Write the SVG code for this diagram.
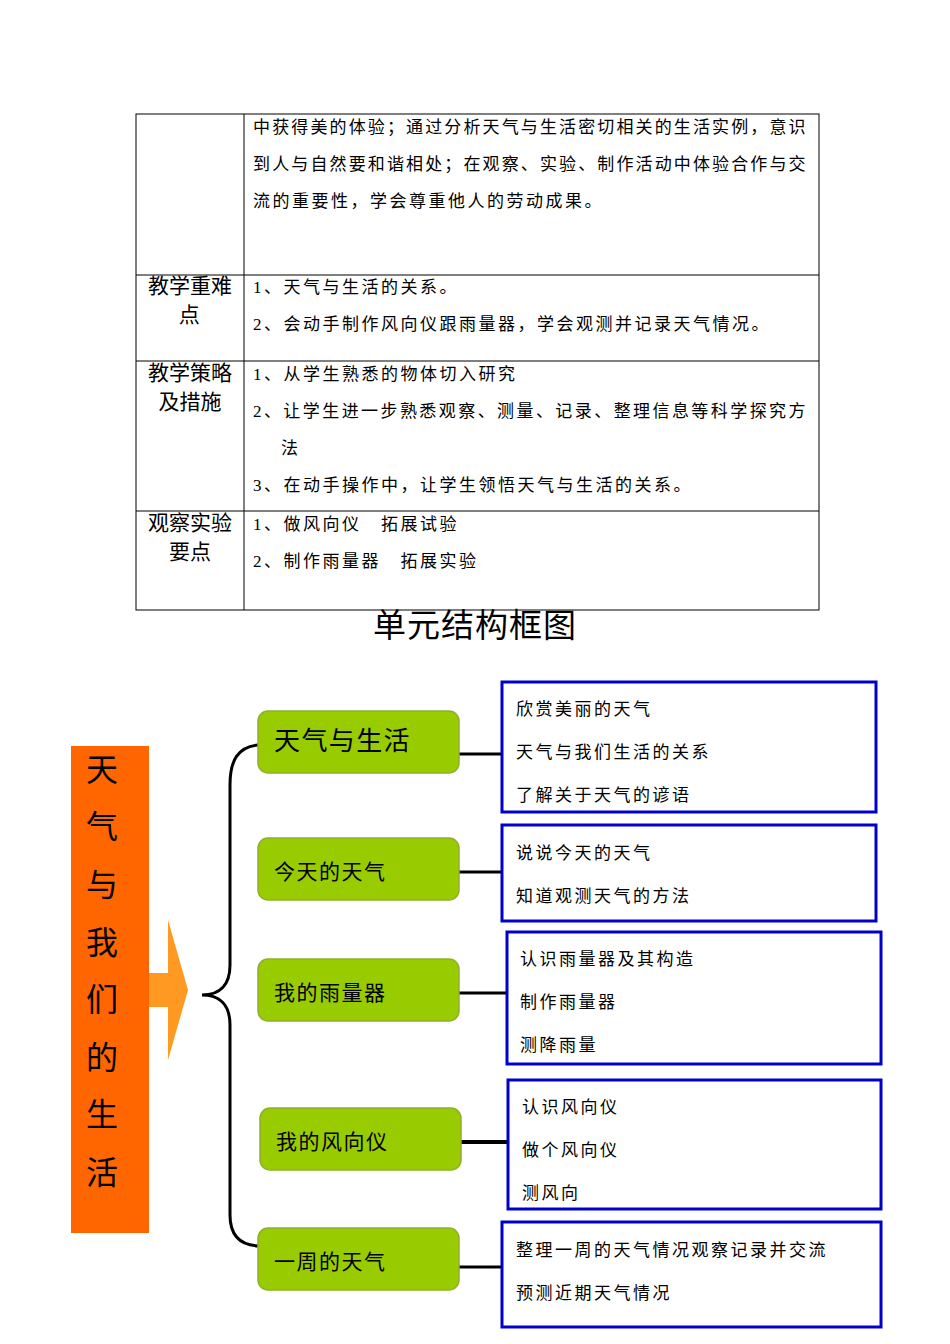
<svg xmlns="http://www.w3.org/2000/svg" width="950" height="1344" viewBox="0 0 950 1344">
<style>
text{font-family:"Liberation Serif","Noto Sans CJK SC",serif;fill:#000}
.t{font-size:17px;letter-spacing:2.5px}
.h{font-size:21px;letter-spacing:1.5px}
.g{fill:#99cc00;stroke:#8db02a;stroke-width:1.5}
.b{fill:#fff;stroke:#0000cc;stroke-width:3}
.c{stroke:#000;stroke-width:3;fill:none}
.grid{stroke:#000;stroke-width:1;fill:none}
</style>
<rect width="950" height="1344" fill="#fff"/>
<g id="table">
<rect class="grid" x="136" y="114" width="683" height="496"/>
<line class="grid" x1="244" y1="114" x2="244" y2="610"/>
<line class="grid" x1="136" y1="275" x2="819" y2="275"/>
<line class="grid" x1="136" y1="361" x2="819" y2="361"/>
<line class="grid" x1="136" y1="511" x2="819" y2="511"/>
<text class="t" x="253" y="133" textLength="555">中获得美的体验；通过分析天气与生活密切相关的生活实例，意识</text>
<text class="t" x="253" y="170" textLength="555">到人与自然要和谐相处；在观察、实验、制作活动中体验合作与交</text>
<text class="t" x="253" y="207">流的重要性，学会尊重他人的劳动成果。</text>
<text class="h" x="190" y="293" text-anchor="middle" style="letter-spacing:0">教学重难</text>
<text class="h" x="190" y="322" text-anchor="middle">点</text>
<text class="t" x="253" y="293">1、天气与生活的关系。</text>
<text class="t" x="253" y="330">2、会动手制作风向仪跟雨量器，学会观测并记录天气情况。</text>
<text class="h" x="190" y="380" text-anchor="middle" style="letter-spacing:0">教学策略</text>
<text class="h" x="190" y="409" text-anchor="middle" style="letter-spacing:0">及措施</text>
<text class="t" x="253" y="380">1、从学生熟悉的物体切入研究</text>
<text class="t" x="253" y="417" textLength="555">2、让学生进一步熟悉观察、测量、记录、整理信息等科学探究方</text>
<text class="t" x="281" y="454">法</text>
<text class="t" x="253" y="491">3、在动手操作中，让学生领悟天气与生活的关系。</text>
<text class="h" x="190" y="530" text-anchor="middle" style="letter-spacing:0">观察实验</text>
<text class="h" x="190" y="559" text-anchor="middle" style="letter-spacing:0">要点</text>
<text class="t" x="253" y="530">1、做风向仪　拓展试验</text>
<text class="t" x="253" y="567">2、制作雨量器　拓展实验</text>
</g>
<text x="475" y="637" text-anchor="middle" style="font-size:33px;letter-spacing:1px">单元结构框图</text>
<g id="main">
<rect x="71" y="746" width="78" height="487" fill="#ff6600"/>
<polygon points="149,973 168,973 168,920 188,990 168,1060 168,1007 149,1007" fill="#ff9922"/>
<g style="font-size:32px" text-anchor="middle">
<text x="102" y="781">天</text><text x="102" y="838">气</text><text x="102" y="896">与</text><text x="102" y="954">我</text>
<text x="102" y="1011">们</text><text x="102" y="1069">的</text><text x="102" y="1126">生</text><text x="102" y="1184">活</text>
</g>
</g>
<g id="connectors">
<path class="c" d="M258,745 C238,747 230,760 230,785 L230,965 C230,985 220,995 202,995 C220,995 230,1005 230,1025 L230,1215 C230,1235 240,1245 258,1246"/>
<line class="c" x1="459" y1="754" x2="502" y2="754"/>
<line class="c" x1="459" y1="872" x2="502" y2="872"/>
<line class="c" x1="459" y1="993" x2="507" y2="993"/>
<line class="c" x1="461" y1="1142" x2="508" y2="1142" style="stroke-width:4"/>
<line class="c" x1="459" y1="1267" x2="502" y2="1267"/>
</g>
<g id="n1"><rect class="g" x="258" y="711" width="201" height="62" rx="10"/><text x="274" y="750" style="font-size:26px;letter-spacing:1.4px">天气与生活</text></g>
<g id="n2"><rect class="g" x="258" y="838" width="201" height="62" rx="10"/><text x="274" y="879" class="h">今天的天气</text></g>
<g id="n3"><rect class="g" x="258" y="959" width="201" height="62" rx="10"/><text x="274" y="1000" class="h">我的雨量器</text></g>
<g id="n4"><rect class="g" x="260" y="1108" width="201" height="62" rx="10"/><text x="276" y="1149" class="h">我的风向仪</text></g>
<g id="n5"><rect class="g" x="258" y="1228" width="201" height="62" rx="10"/><text x="274" y="1269" class="h">一周的天气</text></g>
<g id="b1"><rect class="b" x="502" y="682" width="374" height="130"/>
<text class="t" x="516" y="715">欣赏美丽的天气</text><text class="t" x="516" y="758">天气与我们生活的关系</text><text class="t" x="516" y="801">了解关于天气的谚语</text></g>
<g id="b2"><rect class="b" x="502" y="825" width="374" height="96"/>
<text class="t" x="516" y="859">说说今天的天气</text><text class="t" x="516" y="902">知道观测天气的方法</text></g>
<g id="b3"><rect class="b" x="507" y="932" width="374" height="132"/>
<text class="t" x="520" y="965">认识雨量器及其构造</text><text class="t" x="520" y="1008">制作雨量器</text><text class="t" x="520" y="1051">测降雨量</text></g>
<g id="b4"><rect class="b" x="508" y="1080" width="373" height="129"/>
<text class="t" x="522" y="1113">认识风向仪</text><text class="t" x="522" y="1156">做个风向仪</text><text class="t" x="522" y="1199">测风向</text></g>
<g id="b5"><rect class="b" x="502" y="1222" width="379" height="105"/>
<text class="t" x="516" y="1256">整理一周的天气情况观察记录并交流</text><text class="t" x="516" y="1299">预测近期天气情况</text></g>
</svg>
